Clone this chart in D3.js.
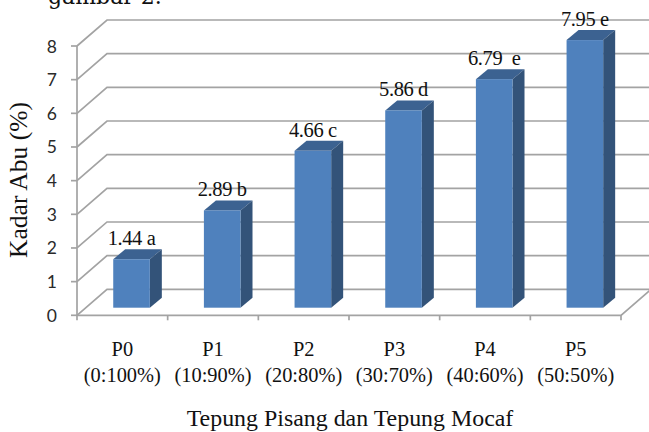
<!DOCTYPE html>
<html><head><meta charset="utf-8">
<script src="https://cdnjs.cloudflare.com/ajax/libs/d3/7.8.5/d3.min.js"></script>
<style>html,body{margin:0;padding:0;background:#fff}svg{display:block}</style>
</head><body><svg id="c" width="649" height="432"></svg>
<script>
const categories = ["P0","P1","P2","P3","P4","P5"];
const ratios = ["(0:100%)","(10:90%)","(20:80%)","(30:70%)","(40:60%)","(50:50%)"];
const values = [1.44,2.89,4.66,5.86,6.79,7.95];
const letters = ["1.44 a","2.89 b","4.66 c","5.86 d","6.79  e","7.95 e"];
const yTicks = [0,1,2,3,4,5,6,7,8];

const svg = d3.select("#c");
const x = d3.scaleBand().domain(categories).range([77,621]);
const y = d3.scaleLinear().domain([0,8]).range([315.3,46]);
const wallDx = 30, wallDy = -26;
const barInDx = 9.2, barInDy = -7.6, depthDx = 12, depthDy = -10, barW = 36.6;
const grid = "#a3a3a3";
const serif = "'Liberation Serif',serif", sans = "Lato,'Open Sans',sans-serif";

const g = svg.append("g").attr("fill","none").attr("stroke",grid).attr("stroke-width",1.7);
yTicks.forEach(t=>{
  g.append("path").attr("d",d3.line()([[77,y(t)],[77+wallDx,y(t)+wallDy],[621+wallDx,y(t)+wallDy]]));
  g.append("line").attr("x1",71).attr("x2",77).attr("y1",y(t)).attr("y2",y(t));
});
g.append("path").attr("d",d3.line()([[77,y(8)],[77,y(0)],[621,y(0)],[621+wallDx,y(0)+wallDy]]));
categories.concat("end").forEach((c,i)=>{
  const px = 77 + i*x.step();
  g.append("line").attr("x1",px).attr("x2",px).attr("y1",y(0)).attr("y2",y(0)+5);
});

const bars = svg.append("g").selectAll("g").data(categories).join("g");
const left = c => x(c)+x.step()/2-barW/2+barInDx;
const base = y(0)+barInDy;
const h = i => y(0)-y(values[i]);
bars.append("path").attr("fill","#3c6291")
  .attr("d",(c,i)=>{const l=left(c),t=base-h(i);return d3.line()([[l,t],[l+depthDx,t+depthDy],[l+barW+depthDx,t+depthDy],[l+barW,t]])+"Z";});
bars.append("path").attr("fill","#335379")
  .attr("d",(c,i)=>{const r=left(c)+barW,t=base-h(i);return d3.line()([[r,t],[r+depthDx,t+depthDy],[r+depthDx,base+depthDy],[r,base]])+"Z";});
bars.append("rect").attr("fill","#4f81bd")
  .attr("x",c=>left(c)).attr("width",barW)
  .attr("y",(c,i)=>base-h(i)).attr("height",(c,i)=>h(i));

svg.append("g").selectAll("text").data(letters).join("text")
  .attr("x",(d,i)=>left(categories[i])+barW/2)
  .attr("y",(d,i)=>base-h(i)+depthDy-4)
  .attr("text-anchor","middle").attr("font-family",serif).attr("font-size",20.5).attr("letter-spacing",-0.4).attr("fill","#111")
  .style("white-space","pre").text(d=>d);

svg.append("g").selectAll("text").data(yTicks).join("text")
  .attr("x",57).attr("y",t=>y(t)+6.5).attr("text-anchor","end")
  .attr("font-family",sans).attr("font-size",17.5).attr("fill","#2a2a2a").text(t=>t);

const mid = c => x(c)+x.step()/2;
svg.append("g").selectAll("text").data(categories).join("text")
  .attr("x",mid).attr("y",356).attr("text-anchor","middle")
  .attr("font-family",serif).attr("font-size",20.4).attr("fill","#111").text(c=>c);
svg.append("g").selectAll("text").data(ratios).join("text")
  .attr("x",(d,i)=>mid(categories[i])).attr("y",381.5).attr("text-anchor","middle")
  .attr("font-family",serif).attr("font-size",20.4).attr("fill","#111").text(d=>d);

svg.append("text").attr("x",350).attr("y",426).attr("text-anchor","middle")
  .attr("font-family",serif).attr("font-size",23.9).attr("fill","#111").text("Tepung Pisang dan Tepung Mocaf");
svg.append("text").attr("transform","translate(27,180) rotate(-90)").attr("text-anchor","middle")
  .attr("font-family",serif).attr("font-size",25.5).attr("fill","#111").text("Kadar Abu (%)");
svg.append("text").attr("x",48).attr("y",4).attr("font-family","'DejaVu Serif',serif").attr("font-size",22).attr("fill","#111").text("gambar 2.");
</script></body></html>
